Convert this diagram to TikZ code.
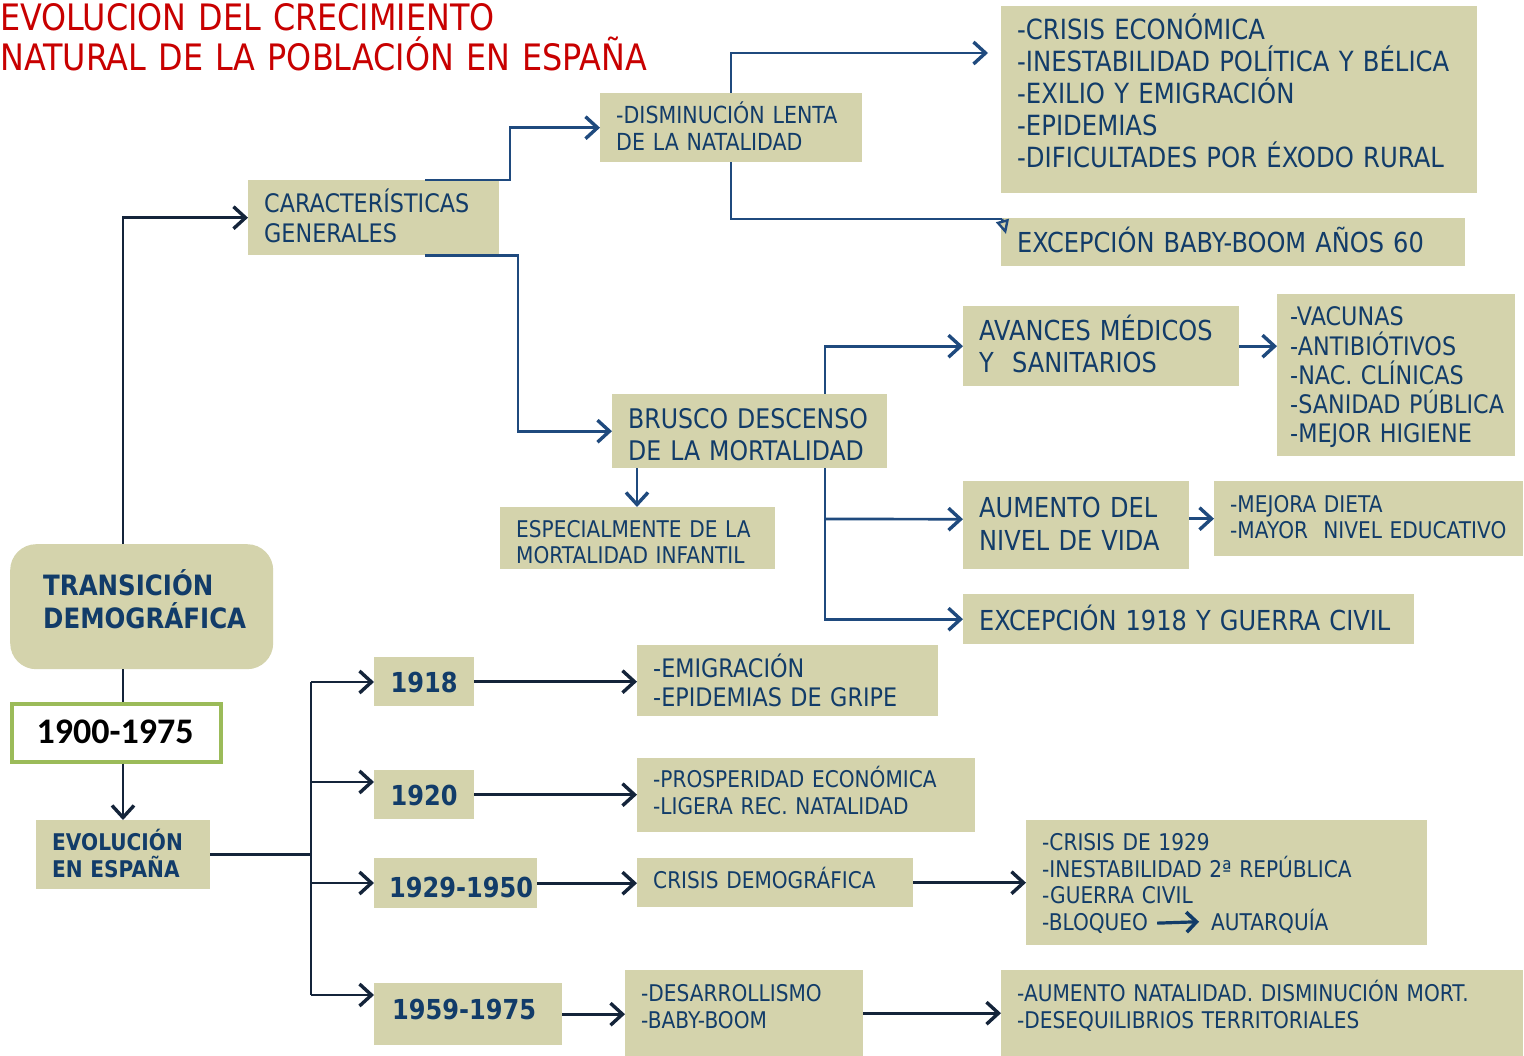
\documentclass[tikz,border=0pt]{standalone}
\usepackage{fontspec}
\setmainfont{DejaVu Sans}[FakeStretch=0.875]
\newfontfamily\carlfont{Carlito}
\usetikzlibrary{arrows.meta,calc}
\definecolor{boxc}{HTML}{D4D3AC}
\definecolor{tc}{HTML}{123C69}
\definecolor{cu}{HTML}{1F4A7E}
\definecolor{cl}{HTML}{14243A}
\definecolor{titc}{HTML}{C80000}
\definecolor{grn}{HTML}{9BBB59}
\newcommand\myfs[2]{\fontsize{#1}{#2}\selectfont}
\begin{document}
\begin{tikzpicture}[x=1pt,y=-1pt,
  bx/.style={fill=boxc, draw=none, inner sep=0pt, anchor=north west},
  txt/.style={text=tc, inner sep=0pt, anchor=base west, align=left, text width=1000pt},
  txs/.style={text=tc, inner sep=0pt, anchor=base west},
  yt/.style={text=tc, inner sep=0pt, anchor=base, font=\myfs{27.5}{32}\bfseries},
  conU/.style={draw=cu, line width=2.7pt},
  conL/.style={draw=cl, line width=2.7pt},
  arr/.style={-{Straight Barb[length=12pt,width=22pt,line width=3.4pt]}},
]
\useasboundingbox (0,0) rectangle (1524,1056);
\fill[white] (0,0) rectangle (1524,1056);

% title
\node[txt, text=titc, font=\myfs{36.4}{40}] (title) at (0,31) {EVOLUCION DEL CRECIMIENTO\\NATURAL DE LA POBLACIÓN EN ESPAÑA};

% boxes
\node[bx, minimum width=476pt, minimum height=187pt] (r1) at (1001,6) {};
\node[bx, minimum width=262pt, minimum height=69pt] (dism) at (600,93) {};
\node[bx, minimum width=464pt, minimum height=48pt] (bb) at (1001,218) {};
\node[bx, minimum width=251pt, minimum height=75pt] (carac) at (248,180) {};
\node[bx, minimum width=276pt, minimum height=80pt] (avances) at (963,306) {};
\node[bx, minimum width=238pt, minimum height=162pt] (vacunas) at (1277,294) {};
\node[bx, minimum width=275pt, minimum height=74pt] (brusco) at (612,394) {};
\node[bx, minimum width=275pt, minimum height=62pt] (especial) at (500,507) {};
\node[bx, minimum width=226pt, minimum height=88pt] (aumento) at (963,481) {};
\node[bx, minimum width=309pt, minimum height=75pt] (mejora) at (1214,481) {};
\node[bx, minimum width=451pt, minimum height=50pt] (exc18) at (963,594) {};
\node[bx, rounded corners=26pt, minimum width=263pt, minimum height=125pt] (trans) at (10,544) {};
\node[bx, fill=white, draw=grn, line width=3.5pt, minimum width=209pt, minimum height=58pt] (y1900) at (10,702) {};
\node[bx, minimum width=174pt, minimum height=69pt] (evol) at (36,820) {};
\node[bx, minimum width=100pt, minimum height=49pt] (b1918) at (374,657) {};
\node[bx, minimum width=100pt, minimum height=49pt] (b1920) at (374,770) {};
\node[bx, minimum width=163pt, minimum height=50pt] (b1929) at (374,858) {};
\node[bx, minimum width=188pt, minimum height=62pt] (b1959) at (374,983) {};
\node[bx, minimum width=301pt, minimum height=71pt] (emig) at (637,645) {};
\node[bx, minimum width=338pt, minimum height=74pt] (prosp) at (637,758) {};
\node[bx, minimum width=276pt, minimum height=49pt] (crisd) at (637,858) {};
\node[bx, minimum width=401pt, minimum height=125pt] (cris29) at (1026,820) {};
\node[bx, minimum width=238pt, minimum height=86pt] (desarr) at (625,970) {};
\node[bx, minimum width=522pt, minimum height=86pt] (aumnat) at (1001,970) {};

% texts
\node[txt,font=\myfs{27.8}{32}] (r1t) at (1017,40) {-CRISIS ECONÓMICA\\-INESTABILIDAD POLÍTICA Y BÉLICA\\-EXILIO Y EMIGRACIÓN\\-EPIDEMIAS\\-DIFICULTADES POR ÉXODO RURAL};
\node[txt,font=\myfs{23.5}{27}] (dismt) at (616,123.5) {-DISMINUCIÓN LENTA\\DE LA NATALIDAD};
\node[txt,font=\myfs{27.5}{32}] (bbt) at (1017,253) {EXCEPCIÓN BABY-BOOM AÑOS 60};
\node[txt,font=\myfs{25.5}{30}] (caract) at (264,213) {CARACTERÍSTICAS\\GENERALES};
\node[txt,font=\myfs{27.5}{32}] (avt) at (979,341) {AVANCES MÉDICOS\\Y\ \ SANITARIOS};
\node[txt,font=\myfs{25.5}{29.25}] (vact) at (1290,326) {-VACUNAS\\-ANTIBIÓTIVOS\\-NAC. CLÍNICAS\\-SANIDAD PÚBLICA\\-MEJOR HIGIENE};
\node[txt,font=\myfs{27}{32}] (brt) at (628,429) {BRUSCO DESCENSO\\DE LA MORTALIDAD};
\node[txt,font=\myfs{23}{26}] (espt) at (516,537.5) {ESPECIALMENTE DE LA\\MORTALIDAD INFANTIL};
\node[txt,font=\myfs{27.5}{33}] (aumt) at (979,517) {AUMENTO DEL\\NIVEL DE VIDA};
\node[txt,font=\myfs{23}{26}] (mejt) at (1230,512.5) {-MEJORA DIETA\\-MAYOR\ \ NIVEL EDUCATIVO};
\node[txt,font=\myfs{27.5}{32}] (ex18t) at (979,630) {EXCEPCIÓN 1918 Y GUERRA CIVIL};
\node[txt,font=\myfs{28}{33}\bfseries] (transt) at (43,595) {TRANSICIÓN\\DEMOGRÁFICA};
\node[inner sep=0pt, anchor=base, text=black, font=\carlfont\bfseries\fontsize{36}{40}\selectfont] (y1900t) at (115,743) {1900-1975};
\node[txt,font=\myfs{23}{27}\bfseries] (evolt) at (52,850) {EVOLUCIÓN\\EN ESPAÑA};
\node[yt] (t1918) at (424,692) {1918};
\node[yt] (t1920) at (424,805) {1920};
\node[yt] (t1929) at (461,897) {1929-1950};
\node[yt] (t1959) at (464,1019) {1959-1975};
\node[txt,font=\myfs{25.5}{29}] (emigt) at (653,677) {-EMIGRACIÓN\\-EPIDEMIAS DE GRIPE};
\node[txt,font=\myfs{23}{27}] (prospt) at (653,787.5) {-PROSPERIDAD ECONÓMICA\\-LIGERA REC. NATALIDAD};
\node[txt,font=\myfs{23}{27}] (crisdt) at (653,888.5) {CRISIS DEMOGRÁFICA};
\node[txt,font=\myfs{23}{26.7}] (cris29t) at (1042,850.5) {-CRISIS DE 1929\\-INESTABILIDAD 2ª REPÚBLICA\\-GUERRA CIVIL};
\node[txs,font=\myfs{23}{26.7}] (bloq) at (1042,930.5) {-BLOQUEO};
\node[txs,font=\myfs{23}{26.7}] (autq) at (1211,930.5) {AUTARQUÍA};
\node[txt,font=\myfs{23}{27}] (desarrt) at (641,1001.5) {-DESARROLLISMO\\-BABY-BOOM};
\node[txt,font=\myfs{23}{27}] (aumnatt) at (1017,1001.5) {-AUMENTO NATALIDAD. DISMINUCIÓN MORT.\\-DESEQUILIBRIOS TERRITORIALES};

\draw[draw=tc, line width=3.2pt, -{Straight Barb[length=10pt,width=20pt,line width=3.6pt]}, shorten <=9pt, shorten >=12pt] (bloq.east) -- (autq.west);

% coordinates
\coordinate (r1in) at (988,53);
\coordinate (bbc) at (1002,219);
\coordinate (bbin) at (1006,234);
\coordinate (bus1) at (311,682);
\coordinate (bus2) at (311,782);
\coordinate (bus3) at (311,883);
\coordinate (bus4) at (311,995);

% upper connectors
\draw[conL,arr] (trans.north -| 123,0) |- (carac.west);
\draw[conU,arr] (carac.north -| 425,0) -- (carac.north -| 510,0) |- (dism.west);
\draw[conU,arr] (carac.south -| 425,0) -- (carac.south -| 518,0) |- (brusco.west);
\draw[conU,arr] (dism.north -| 731,0) |- (r1in);
\draw[conU] (dism.south -| 731,0) |- (bbc);
\draw[conU,-{Triangle[open,length=14pt,width=13pt,line width=2.4pt]}] (bbc) -- (bbin);
\draw[conU,arr] (brusco.north -| 825,0) |- (avances.west);
\draw[conU,arr] (brusco.south -| 825,0) |- (exc18.west);
\draw[conU,arr] (825,519) -- ($(aumento.west)+(0,-6)$);
\draw[conU,arr] (brusco.south -| 637,0) -- (especial.north -| 637,0);
\draw[conU,arr] (avances.east) -- (vacunas.west |- avances.east);
\draw[conU,arr] (aumento.east |- mejora.west) -- (mejora.west);

% lower connectors
\draw[conL] (trans.south -| 123,0) -- (y1900.north -| 123,0);
\draw[conL,arr] (y1900.south -| 123,0) -- (evol.north -| 123,0);
\draw[conL] (evol.east) -- (311,0 |- evol.east);
\draw[conL] (bus1) -- (bus4);
\draw[conL,arr] (bus1) -- (b1918.west |- bus1);
\draw[conL,arr] (bus2) -- (b1920.west |- bus2);
\draw[conL,arr] (bus3) -- (b1929.west |- bus3);
\draw[conL,arr] (bus4) -- (b1959.west |- bus4);
\draw[conL,arr] (b1918.east) -- (emig.west |- b1918.east);
\draw[conL,arr] (b1920.east) -- (prosp.west |- b1920.east);
\draw[conL,arr] (b1929.east) -- (crisd.west |- b1929.east);
\draw[conL,arr] (crisd.east) -- (cris29.west |- crisd.east);
\draw[conL,arr] (b1959.east) -- (desarr.west |- b1959.east);
\draw[conL,arr] (desarr.east) -- (aumnat.west |- desarr.east);
\end{tikzpicture}
\end{document}
